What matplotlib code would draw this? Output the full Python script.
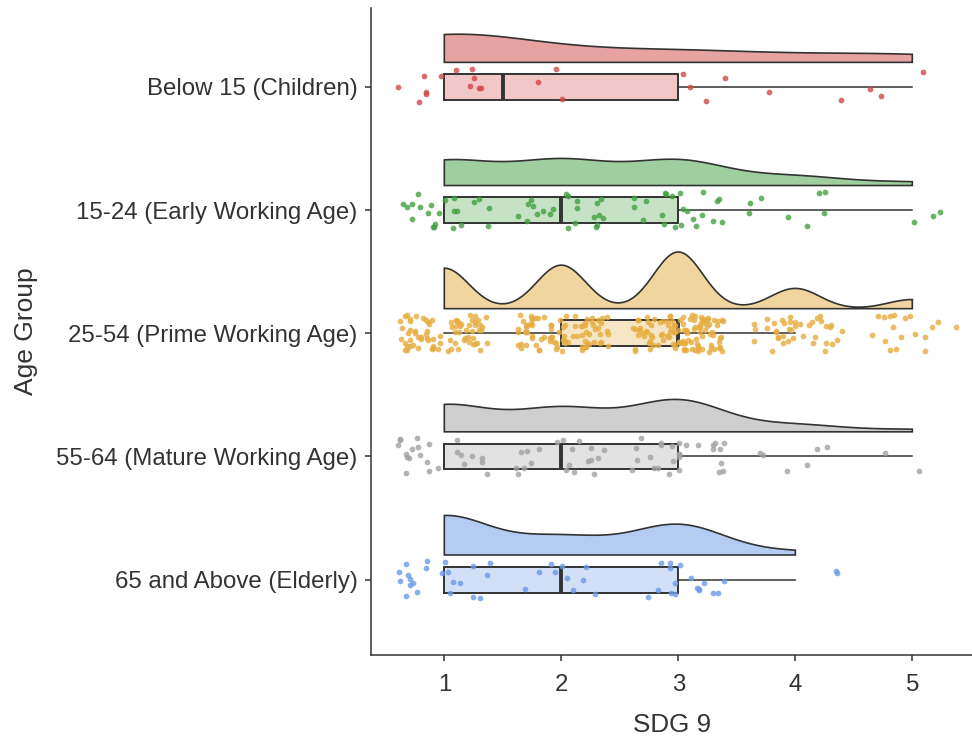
import numpy as np
import matplotlib
matplotlib.use("Agg")
import matplotlib.pyplot as plt

# ---- data (counts of responses per SDG 9 score) ----
groups = ["Below 15 (Children)", "15-24 (Early Working Age)", "25-54 (Prime Working Age)",
          "55-64 (Mature Working Age)", "65 and Above (Elderly)"]
scores = [1, 2, 3, 4, 5]
counts_children = [12, 3, 4, 2, 3]
counts_early = [22, 22, 22, 8, 3]
counts_prime = [80, 86, 112, 40, 18]
counts_mature = [23, 20, 27, 6, 2]
counts_elderly = [22, 10, 17, 2, 0]
all_counts = [counts_children, counts_early, counts_prime, counts_mature, counts_elderly]

base_colors = ["#D14747", "#41A141", "#E5AD3F", "#A1A1A1", "#6B9BE7"]
x_ticks = [1, 2, 3, 4, 5]

plt.rcParams['font.family'] = ['Liberation Sans', 'DejaVu Sans']
text_color = "#333333"

fig = plt.figure(figsize=(9.72, 7.44), dpi=100)
ax = fig.add_axes([0.382, 0.12, 0.618, 0.869])

rng = np.random.default_rng(7)


def nrd0(x):
    x = np.asarray(x, float)
    sd = np.std(x, ddof=1)
    q75, q25 = np.percentile(x, [75, 25])
    lo = min(sd, (q75 - q25) / 1.34)
    if lo <= 0:
        lo = sd
    return 0.9 * lo * len(x) ** (-0.2)


# precompute densities
dens = []
for counts in all_counts:
    vals = np.repeat(scores, counts).astype(float)
    bw = nrd0(vals)
    grid = np.linspace(vals.min(), vals.max(), 400)
    pdf = np.exp(-0.5 * ((grid[:, None] - vals[None, :]) / bw) ** 2).sum(axis=1) / (len(vals) * bw * np.sqrt(2 * np.pi))
    dens.append((vals, grid, pdf))

max_pdf = max(d[2].max() for d in dens)
scale = 0.46 / max_pdf
base_off = 0.2
edge = "#333333"

for i, ((vals, grid, pdf), col) in enumerate(zip(dens, base_colors)):
    # half-violin (cloud)
    top = i - base_off - scale * pdf
    xs = np.concatenate([grid, grid[::-1]])
    ys = np.concatenate([top, np.full_like(grid, i - base_off)])
    ax.fill(xs, ys, facecolor=col, alpha=0.5, edgecolor="none", zorder=2)
    ax.fill(xs, ys, facecolor="none", edgecolor=edge, linewidth=1.2, zorder=3)

    # boxplot
    bp = ax.boxplot([vals], positions=[i], widths=0.21, vert=False, whis=1.5,
                    showfliers=False, showcaps=False, patch_artist=True,
                    manage_ticks=False, zorder=3)
    for b in bp['boxes']:
        b.set_facecolor(matplotlib.colors.to_rgba(col, 0.3))
        b.set_edgecolor(edge)
        b.set_linewidth(1.4)
    for w in bp['whiskers']:
        w.set_color(edge)
        w.set_linewidth(1.1)
    for m in bp['medians']:
        m.set_color(edge)
        m.set_linewidth(2.8)

    # rain (jittered points)
    jx = vals + rng.uniform(-0.4, 0.4, len(vals))
    jy = i + rng.uniform(-0.15, 0.15, len(vals))
    ax.scatter(jx, jy, s=17, color=col, alpha=0.8, linewidths=0, zorder=4)

ax.set_xlim(0.376, 5.51)
ax.set_ylim(4.61, -0.64)
ax.set_xticks(x_ticks)
ax.set_xticklabels([str(t) for t in x_ticks])
ax.set_yticks(range(len(groups)))
ax.set_yticklabels(groups)

for s in ["top", "right"]:
    ax.spines[s].set_visible(False)
for s in ["left", "bottom"]:
    ax.spines[s].set_color(edge)
    ax.spines[s].set_linewidth(1.1)

ax.tick_params(axis="both", colors=edge, labelcolor=text_color, labelsize=17.3,
               length=4, width=1.1)
ax.tick_params(axis="x", pad=10)
ax.tick_params(axis="y", pad=6)
ax.set_xlabel("SDG 9", fontsize=18.7, color=text_color, labelpad=12)
ax.set_ylabel("Age Group", fontsize=19, color=text_color, labelpad=13)

fig.savefig("out.png", dpi=100)
